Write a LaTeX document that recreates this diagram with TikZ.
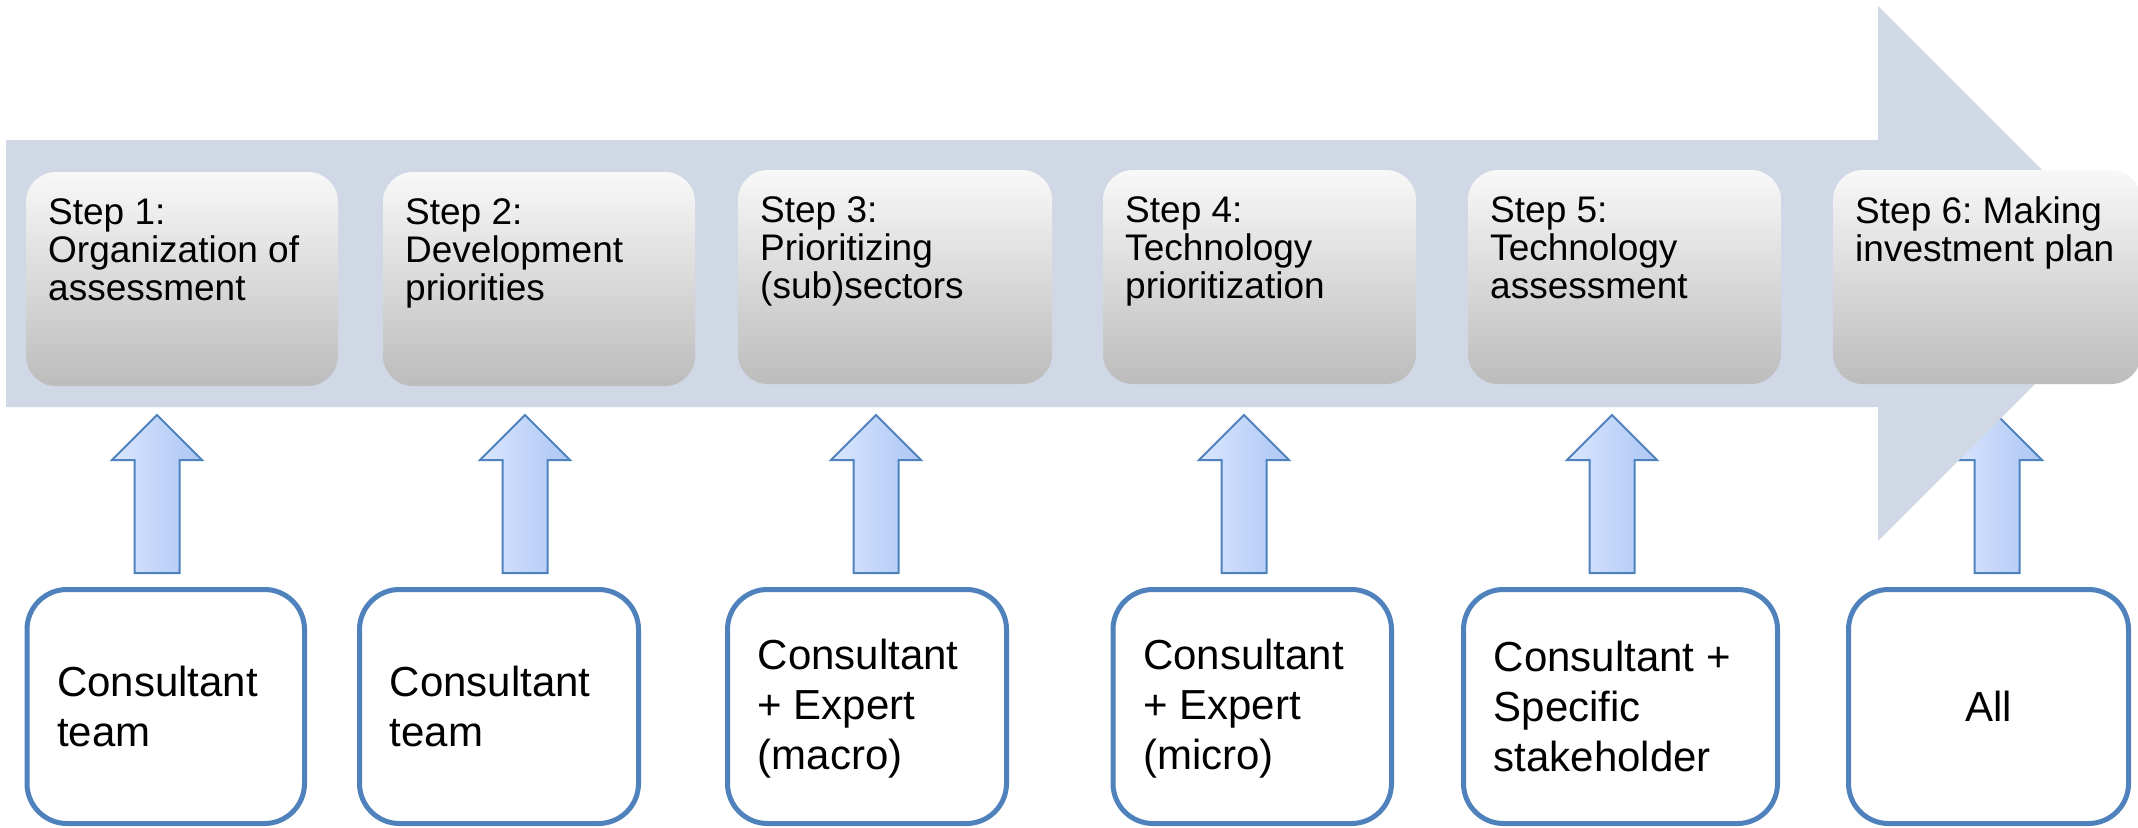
\documentclass[tikz,border=0pt]{standalone}
\usepackage{fontspec}
\setmainfont{Liberation Sans}
\usetikzlibrary{calc}
\frenchspacing
\definecolor{band}{RGB}{208,216,230}
\definecolor{bblue}{RGB}{79,129,189}
\definecolor{ashl}{RGB}{218,230,253}
\definecolor{ashr}{RGB}{172,198,245}
\definecolor{sgtop}{RGB}{248,248,248}
\definecolor{sgmid}{RGB}{224,224,224}
\definecolor{sgbot}{RGB}{188,188,188}
\begin{document}
\begin{tikzpicture}[x=1pt,y=-1pt,
  stepbox/.style={rectangle, rounded corners=30pt, top color=sgtop, middle color=sgmid, bottom color=sgbot, minimum height=214pt, inner sep=0pt, outer sep=0pt},
  steptext/.style={anchor=north west, inner sep=0pt, align=left, font=\fontsize{37pt}{38.3pt}\selectfont\frenchspacing},
  whobox/.style={rectangle, draw=bblue, line width=5pt, fill=white, rounded corners=40pt, minimum height=234pt, inner sep=0pt, outer sep=0pt},
  whotext/.style={inner sep=0pt, align=left, font=\fontsize{42pt}{50pt}\selectfont},
  uparr/.pic={\shade[draw=bblue, line width=2pt, left color=ashl, right color=ashr]
     (-22.5,0) -- (-22.5,-113) -- (-45,-113) -- (0,-158) -- (45,-113) -- (22.5,-113) -- (22.5,0) -- cycle;}
]
\useasboundingbox (0,0) rectangle (2138,827);

% input arrows (tails)
\coordinate (a1) at (157,573);
\coordinate (a2) at (525,573);
\coordinate (a3) at (876,573);
\coordinate (a4) at (1244,573);
\coordinate (a5) at (1612,573);
\coordinate (a6) at (1997,573);
\foreach \a in {a1,a2,a3,a4,a5,a6} \pic at (\a) {uparr};

% big process arrow
\fill[band] (6,140) -- (1878,140) -- (1878,6) -- (2145.5,273.5) -- (1878,541) -- (1878,407) -- (6,407) -- cycle;

% step boxes
\node[stepbox, minimum width=312pt] (s1) at (182,279) {};
\node[stepbox, minimum width=312pt] (s2) at (539,279) {};
\node[stepbox, minimum width=314pt] (s3) at (895,277) {};
\node[stepbox, minimum width=313pt] (s4) at (1259.5,277) {};
\node[stepbox, minimum width=313pt] (s5) at (1624.5,277) {};
\node[stepbox, minimum width=308pt] (s6) at (1987,277) {};

\node[steptext] (l1) at ($(s1.north west)+(22,26)$) {Step 1:\\Organization of\\assessment};
\node[steptext] (l2) at ($(s2.north west)+(22,26)$) {Step 2:\\Development\\priorities};
\node[steptext] (l3) at ($(s3.north west)+(22,26)$) {Step 3:\\Prioritizing\\(sub)sectors};
\node[steptext] (l4) at ($(s4.north west)+(22,26)$) {Step 4:\\Technology\\prioritization};
\node[steptext] (l5) at ($(s5.north west)+(22,26)$) {Step 5:\\Technology\\assessment};
\node[steptext] (l6) at ($(s6.north west)+(22,26)$) {Step 6: Making\\investment plan};

% actor boxes
\node[whobox, minimum width=277.5pt] (b1) at (165.75,706.5) {};
\node[whobox, minimum width=279pt] (b2) at (499,706.5) {};
\node[whobox, minimum width=279pt] (b3) at (867,706.5) {};
\node[whobox, minimum width=278.5pt] (b4) at (1252.25,706.5) {};
\node[whobox, minimum width=314pt] (b5) at (1620.5,706.5) {};
\node[whobox, minimum width=280pt] (b6) at (1988.5,706.5) {};

\node[whotext, anchor=west] (u1) at ($(b1.west)+(30,0)$) {Consultant\\team};
\node[whotext, anchor=west] (u2) at ($(b2.west)+(30,0)$) {Consultant\\team};
\node[whotext, anchor=west] (u3) at ($(b3.west)+(30,2)$) {Consultant\\+ Expert\\(macro)};
\node[whotext, anchor=west] (u4) at ($(b4.west)+(30,2)$) {Consultant\\+ Expert\\(micro)};
\node[whotext, anchor=west] (u5) at ($(b5.west)+(30,0)$) {Consultant +\\Specific\\stakeholder};
\node[whotext] (u6) at (b6.center) {All};
\end{tikzpicture}
\end{document}
